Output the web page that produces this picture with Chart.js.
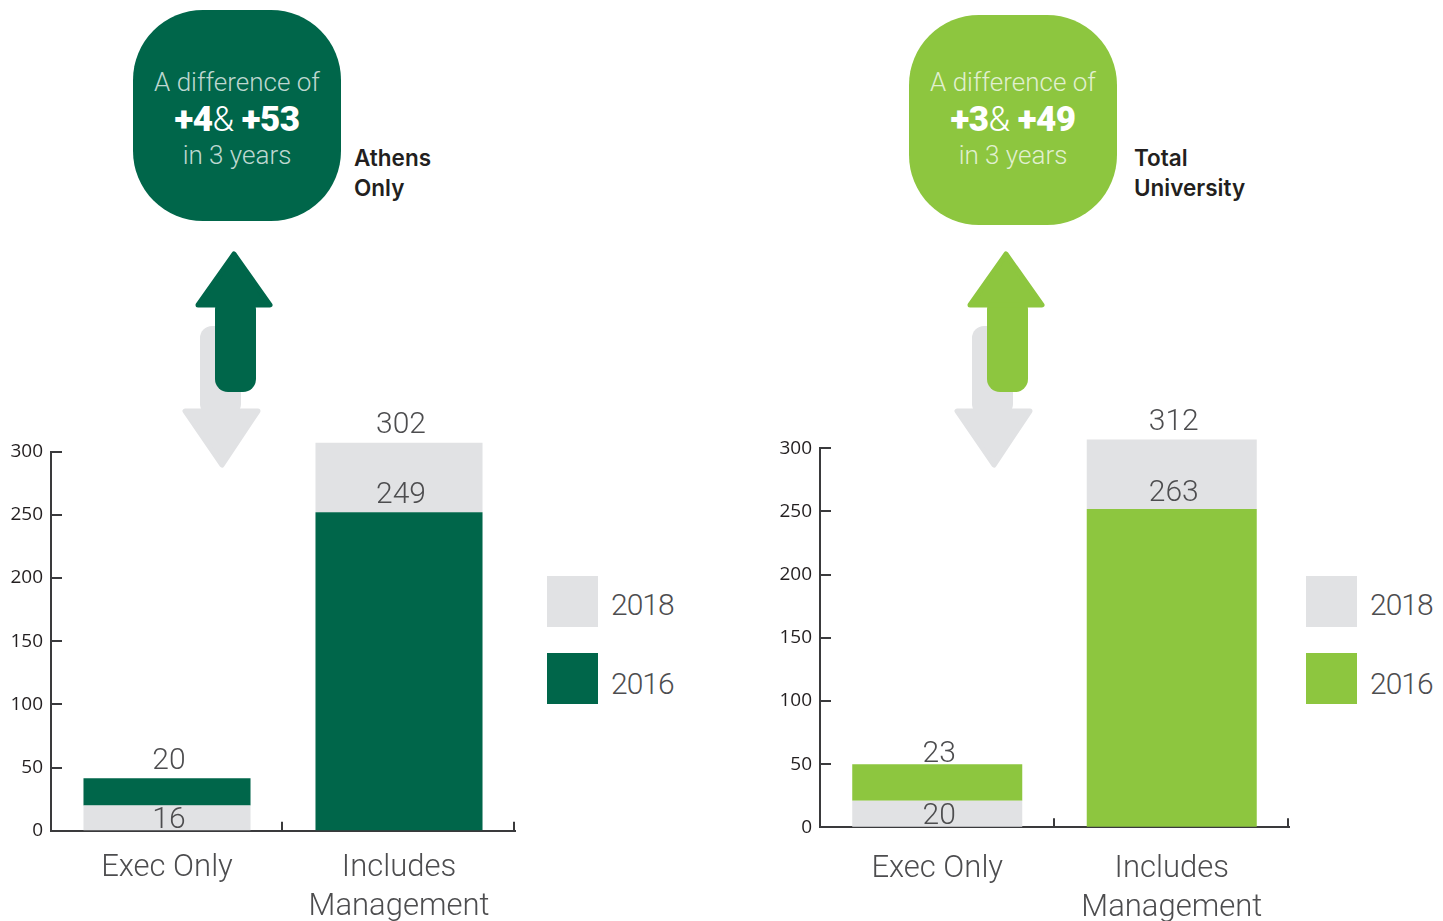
<!DOCTYPE html>
<html>
<head>
<meta charset="utf-8">
<script src="https://cdn.jsdelivr.net/npm/chart.js@4.4.1/dist/chart.umd.min.js"></script>
<style>
  body { margin:0; background:#fff; width:1443px; height:921px; overflow:hidden; position:relative; font-family:Roboto, sans-serif; }
  .box { position:absolute; width:208px; height:211px; border-radius:70px; }
  .box div { position:absolute; left:0; width:100%; text-align:center; white-space:nowrap; }
  .l1, .l3 { font-size:26px; font-weight:300; line-height:30px; color:rgba(255,255,255,0.75); }
  .l2 { font-size:35px; font-weight:900; line-height:40px; color:#fff; letter-spacing:-0.5px; }
  .l2 span { font-weight:300; }
  .tag { position:absolute; font-family:Inter, sans-serif; font-weight:600; font-size:22.5px; line-height:30px; color:#231f20; }
  .sw { position:absolute; width:51px; height:51px; }
  .yr { position:absolute; font-size:30px; font-weight:300; color:#4d4d4f; line-height:36px; letter-spacing:-1px; }
  canvas { position:absolute; }
  svg { position:absolute; left:0; top:0; }
</style>
</head>
<body>
<svg width="1443" height="921">
  <g>
    <rect x="200" y="326" width="41" height="90" rx="12" fill="#e1e2e4"/>
    <polygon points="185,411 258,411 222,465" fill="#e1e2e4" stroke="#e1e2e4" stroke-width="5" stroke-linejoin="round"/>
    <rect x="215" y="296" width="41" height="96" rx="13" fill="#00664a"/>
    <polygon points="234,254 270,305 198,305" fill="#00664a" stroke="#00664a" stroke-width="5" stroke-linejoin="round"/>
  </g>
  <g transform="translate(772,0)">
    <rect x="200" y="326" width="41" height="90" rx="12" fill="#e1e2e4"/>
    <polygon points="185,411 258,411 222,465" fill="#e1e2e4" stroke="#e1e2e4" stroke-width="5" stroke-linejoin="round"/>
    <rect x="215" y="296" width="41" height="96" rx="13" fill="#8dc63f"/>
    <polygon points="234,254 270,305 198,305" fill="#8dc63f" stroke="#8dc63f" stroke-width="5" stroke-linejoin="round"/>
  </g>
</svg>

<div class="box" style="left:133px; top:10px; background:#00664a;">
  <div class="l1" style="top:57px;">A difference of</div>
  <div class="l2" style="top:90px;">+4<span>&amp;</span> +53</div>
  <div class="l3" style="top:130px;">in 3 years</div>
</div>
<div class="tag" style="left:354px; top:143px;">Athens<br>Only</div>

<div class="box" style="left:909px; top:15px; height:210px; background:#8dc63f;">
  <div class="l1" style="top:52px;">A difference of</div>
  <div class="l2" style="top:85px;">+3<span>&amp;</span> +49</div>
  <div class="l3" style="top:125px;">in 3 years</div>
</div>
<div class="tag" style="left:1134px; top:143px;">Total<br>University</div>

<div class="sw" style="left:547px; top:576px; background:#e1e2e4;"></div>
<div class="yr" style="left:611px; top:587px;">2018</div>
<div class="sw" style="left:547px; top:653px; background:#00664a;"></div>
<div class="yr" style="left:611px; top:666px;">2016</div>

<div class="sw" style="left:1306px; top:576px; background:#e1e2e4;"></div>
<div class="yr" style="left:1370px; top:587px;">2018</div>
<div class="sw" style="left:1306px; top:653px; background:#8dc63f;"></div>
<div class="yr" style="left:1370px; top:666px;">2016</div>

<canvas id="athens" width="530" height="521" style="left:0; top:400px;"></canvas>
<canvas id="total" width="530" height="521" style="left:770px; top:400px;"></canvas>

<script>
// categories and values
const categories = [['Exec Only'], ['Includes', 'Management']];
const yTicks = [0, 50, 100, 150, 200, 250, 300];

// Athens Only: bar segment heights as drawn (lower part, upper part on top of it)
const athensLower = [20, 252];
const athensUpper = [21.5, 55];
const athensLowerLabels = ['16', '249'];
const athensUpperLabels = ['20', '302'];

// Total University
const totalLower = [21, 252];
const totalUpper = [29, 55];
const totalLowerLabels = ['20', '263'];
const totalUpperLabels = ['23', '312'];

const GREY = '#e1e2e4';
const DARK = '#00664a';
const LIGHT = '#8dc63f';
const AXIS = '#3a3a3c';

// inward tick marks + value labels
const decor = {
  id: 'decor',
  afterDatasetsDraw(chart) {
    const ctx = chart.ctx;
    const xs = chart.scales.x, ys = chart.scales.y;
    const area = chart.chartArea;
    const opt = chart.options.plugins.decor;
    ctx.save();
    ctx.strokeStyle = AXIS;
    ctx.lineWidth = 2;
    ctx.beginPath();
    ys.ticks.forEach((t, i) => {
      const py = Math.round(ys.getPixelForTick(i));
      ctx.moveTo(area.left, py);
      ctx.lineTo(area.left + 11, py);
    });
    const n = chart.data.labels.length;
    const w = (xs.right - xs.left) / n;
    for (let k = 1; k <= n; k++) {
      const px = Math.round(xs.left + k * w) - 1;
      ctx.moveTo(px, area.bottom);
      ctx.lineTo(px, area.bottom - 9);
    }
    ctx.stroke();

    ctx.fillStyle = '#4d4d4f';
    ctx.font = '300 30px Roboto';
    ctx.textAlign = 'center';
    ctx.textBaseline = 'middle';
    const lo = chart.getDatasetMeta(0), up = chart.getDatasetMeta(1);
    lo.data.forEach((bar, i) => {
      const h = bar.base - bar.y;
      // tall segment: label sits just above it, short one: label centred inside
      const cy = h > 60 ? bar.y - opt.lowGap : (bar.y + bar.base) / 2 + 3;
      ctx.fillText(opt.lower[i], bar.x + 2, cy);
    });
    up.data.forEach((bar, i) => {
      ctx.fillText(opt.upper[i], bar.x + 2, bar.y - opt.upGap[i]);
    });
    ctx.restore();
  }
};

function makeChart(id, lower, upper, color, lowerLabels, upperLabels, cfg) {
  return new Chart(document.getElementById(id), {
    type: 'bar',
    data: {
      labels: categories,
      datasets: [
        { data: lower, backgroundColor: [GREY, color], clip: false },
        { data: upper, backgroundColor: [color, GREY], clip: false }
      ]
    },
    options: {
      responsive: false,
      animation: false,
      categoryPercentage: 1,
      barPercentage: cfg.barPct,
      layout: { padding: { top: cfg.padTop, right: cfg.padRight, left: 0, bottom: 0 } },
      plugins: {
        legend: { display: false },
        tooltip: { enabled: false },
        decor: { lower: lowerLabels, upper: upperLabels, upGap: cfg.upGap, lowGap: cfg.lowGap }
      },
      scales: {
        x: {
          stacked: true,
          grid: { display: true, drawOnChartArea: false, drawTicks: false },
          border: { display: true, color: AXIS, width: 2 },
          ticks: { color: '#4d4d4f', padding: cfg.xPad, font: { family: 'Roboto', size: 31, weight: 300, lineHeight: 1.26 } },
          afterFit(s) { s.height = cfg.xHeight; }
        },
        y: {
          stacked: true,
          min: 0,
          max: 300,
          afterBuildTicks(s) { s.ticks = yTicks.map(v => ({ value: v })); },
          grid: { display: true, drawOnChartArea: false, drawTicks: false },
          border: { display: true, color: AXIS, width: 2 },
          ticks: { color: '#231f20', padding: 8, font: { family: 'Open Sans', size: 19 } },
          afterFit(s) { s.width = cfg.yWidth; }
        }
      }
    },
    plugins: [decor]
  });
}

makeChart('athens', athensLower, athensUpper, DARK, athensLowerLabels, athensUpperLabels,
  { yWidth: 51, xHeight: 90.3, padTop: 51.7, padRight: 15, barPct: 0.72, xPad: 18, upGap: [17, 17], lowGap: 17 });
makeChart('total', totalLower, totalUpper, LIGHT, totalLowerLabels, totalUpperLabels,
  { yWidth: 50, xHeight: 93.7, padTop: 48.3, padRight: 11, barPct: 0.725, xPad: 22, upGap: [10, 17], lowGap: 15 });
</script>
</body>
</html>
